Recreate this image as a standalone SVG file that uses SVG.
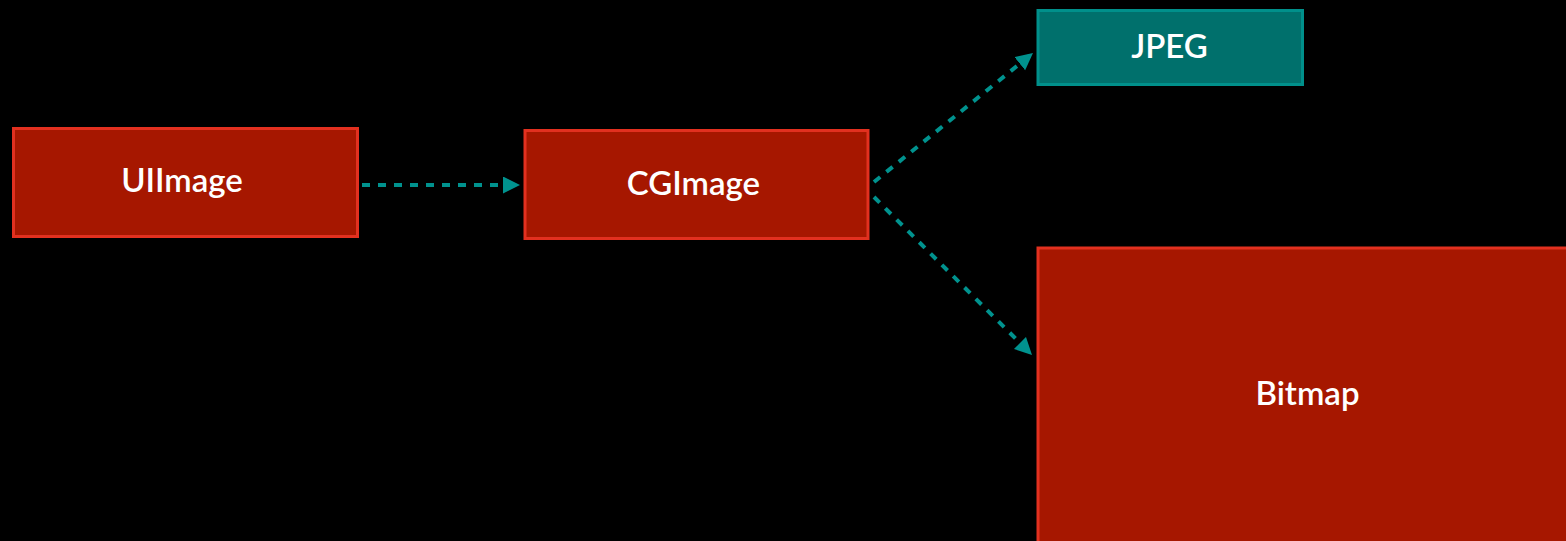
<svg xmlns="http://www.w3.org/2000/svg" width="1566" height="541" viewBox="0 0 1566 541">
  <style>
    .red rect { fill: #a61700; stroke: #e2301f; stroke-width: 3; }
    .teal rect { fill: #00706c; stroke: #00908b; stroke-width: 3; }
    .label { font-family: Lato, "Open Sans", sans-serif; font-size: 33px; font-weight: 600; fill: #ffffff; text-anchor: middle; }
    .edge { fill: none; stroke: #00928e; stroke-width: 4; stroke-dasharray: 8 8; }
  </style>
  <defs>
    <marker id="arrow" markerUnits="userSpaceOnUse" markerWidth="18" markerHeight="18" refX="17" refY="8.5" orient="auto">
      <path d="M0,0 L17,8.5 L0,17 z" fill="#00928e"/>
    </marker>
  </defs>
  <rect width="1566" height="541" fill="#000000"/>

  <g id="node-uiimage" class="red">
    <rect x="13.5" y="128.5" width="344" height="108"/>
    <text class="label" x="182" y="192">UIImage</text>
  </g>

  <g id="node-cgimage" class="red">
    <rect x="525" y="130.5" width="343" height="108"/>
    <text class="label" x="693.5" y="194.5">CGImage</text>
  </g>

  <g id="node-jpeg" class="teal">
    <rect x="1038" y="10.5" width="264.5" height="74"/>
    <text class="label" x="1169.5" y="57.5">JPEG</text>
  </g>

  <g id="node-bitmap" class="red">
    <rect x="1038" y="248" width="540" height="310"/>
    <text class="label" x="1307.5" y="405">Bitmap</text>
  </g>

  <g id="connectors">
    <line class="edge" x1="362" y1="185" x2="520" y2="185" marker-end="url(#arrow)"/>
    <line class="edge" x1="874" y1="182" x2="1033" y2="53" marker-end="url(#arrow)"/>
    <line class="edge" x1="874" y1="197" x2="1032" y2="355" marker-end="url(#arrow)"/>
  </g>
</svg>
